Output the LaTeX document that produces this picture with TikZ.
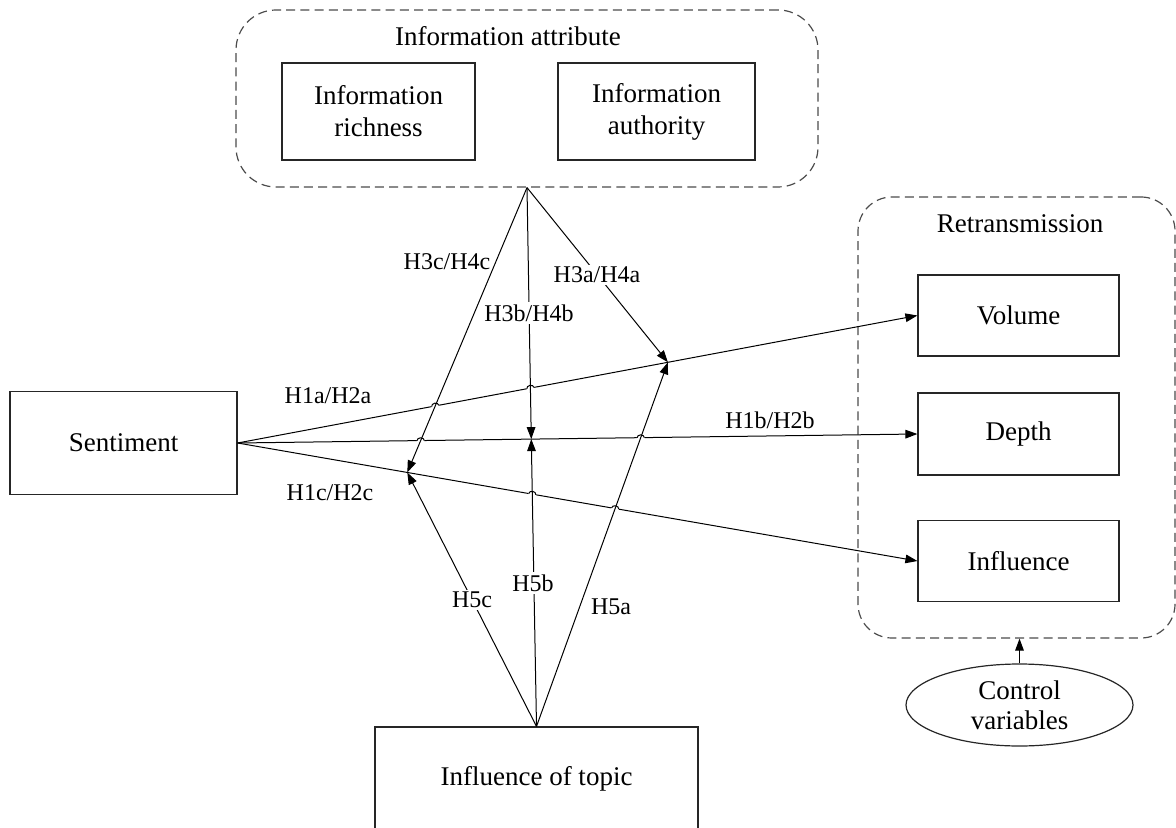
\documentclass[tikz,border=0pt]{standalone}
\usepackage{fontspec}
\setmainfont{Liberation Serif}
\usetikzlibrary{arrows.meta,intersections,calc,shapes.geometric}
\newcommand{\hopmark}[2]{%
  \begin{scope}[shift={(#1)},rotate=#2]
    \fill[white] (-1.9pt,-0.7pt) rectangle (1.9pt,0.7pt);
    \draw[ln] (-1.8pt,0pt) arc[start angle=180,end angle=0,x radius=1.8pt,y radius=1.4pt];
  \end{scope}}
\begin{document}
\begin{tikzpicture}[x=0.5pt,y=-0.5pt,
  ln/.style={draw=black, line width=0.5pt},
  arr/.style={ln, -{Triangle[length=6pt,width=4.3pt]}},
  box/.style={draw=black!85, line width=0.6pt, align=center, inner sep=0pt, font=\fontsize{13.5}{16}\selectfont},
  group/.style={draw=black!70, line width=0.6pt, dash pattern=on 4.5pt off 2.6pt, rounded corners=20pt, inner sep=0pt},
  ttl/.style={font=\fontsize{13.5}{16}\selectfont, inner sep=0pt},
  lab/.style={font=\fontsize{12}{14}\selectfont, inner sep=1.2pt, fill=white},
  labnf/.style={font=\fontsize{12}{14}\selectfont, inner sep=1.2pt}]
\useasboundingbox (0,0) rectangle (1176,828);

% groups
\node[group, minimum width=291pt, minimum height=88.5pt] (attr) at (527,98.5) {};
\node[ttl] (attrttl) at (508,36) {Information attribute};
\node[box, minimum width=96.5pt, minimum height=48.5pt] (rich) at (378.5,111.5) {Information\\richness};
\node[box, minimum width=98.5pt, minimum height=48.5pt] (auth) at (656.5,111.5) {Information\\authority};

\node[group, rounded corners=17pt, minimum width=158.5pt, minimum height=220.5pt] (retr) at (1016.5,417.5) {};
\node[ttl] (retrttl) at (1020,224) {Retransmission};
\node[box, minimum width=100.5pt, minimum height=40.5pt] (vol) at (1018.5,315.5) {Volume};
\node[box, minimum width=100.5pt, minimum height=41pt] (dep) at (1018.5,434) {Depth};
\node[box, minimum width=100.5pt, minimum height=40.5pt] (inf) at (1018.5,561) {Influence};

\node[draw=black!85, line width=0.6pt, ellipse, minimum width=113.5pt, minimum height=41pt, inner sep=0pt, align=center, font=\fontsize{13.5}{15}\selectfont] (ctrl) at (1019.5,705) {Control\\variables};
\draw[arr] (ctrl.north) -- (ctrl.north |- retr.south);

\node[box, minimum width=113.5pt, minimum height=51.5pt] (sent) at (123.5,443) {Sentiment};
\node[box, minimum width=161.5pt, minimum height=51.5pt] (topic) at (536.5,778.5) {Influence of topic};

% main paths
\draw[arr, name path=lvol] (sent.east) -- (vol.west);
\draw[arr, name path=ldep] (sent.east) -- (dep.west);
\draw[arr, name path=linf] (sent.east) -- (inf.west);

\coordinate (pa) at ($(sent.east)!0.633!(vol.west)$);
\coordinate (pb) at ($(sent.east)!0.432!(dep.west)$);
\coordinate (pc) at ($(sent.east)!0.2496!(inf.west)$);

\path[name path=h3a] (attr.south) -- (pa);
\path[name path=h3b] (attr.south) -- (pb);
\path[name path=h3c] (attr.south) -- (pc);
\path[name path=h5a] (topic.north) -- (pa);
\path[name path=h5b] (topic.north) -- (pb);
\path[name path=h5c] (topic.north) -- (pc);

\path[name intersections={of=lvol and h3c, by=xa}];
\path[name intersections={of=lvol and h3b, by=xb}];
\path[name intersections={of=ldep and h3c, by=xc}];
\path[name intersections={of=ldep and h5a, by=xd}];
\path[name intersections={of=linf and h5b, by=xe}];
\path[name intersections={of=linf and h5a, by=xf}];
\hopmark{xa}{10.5}
\hopmark{xb}{10.5}
\hopmark{xc}{0.6}
\hopmark{xd}{0.6}
\hopmark{xe}{-10}
\hopmark{xf}{-10}

\draw[arr] (attr.south) -- (pa);
\draw[arr] (attr.south) -- (pb);
\draw[arr] (attr.south) -- (pc);
\draw[arr] (topic.north) -- (pa);
\draw[arr] (topic.north) -- (pb);
\draw[arr] (topic.north) -- (pc);

% labels
\node[labnf] (l1a) at (328,396) {H1a/H2a};
\node[labnf] (l1b) at (770,420) {H1b/H2b};
\node[labnf] (l1c) at (330,493) {H1c/H2c};
\node[labnf] (l3c) at (447,262) {H3c/H4c};
\node[lab] (l3a) at (597,275) {H3a/H4a};
\node[lab] (l3b) at (529,313) {H3b/H4b};
\node[lab] (l5c) at (472,600) {H5c};
\node[lab] (l5b) at (533,583) {H5b};
\node[labnf] (l5a) at (611,607) {H5a};
\end{tikzpicture}
\end{document}
